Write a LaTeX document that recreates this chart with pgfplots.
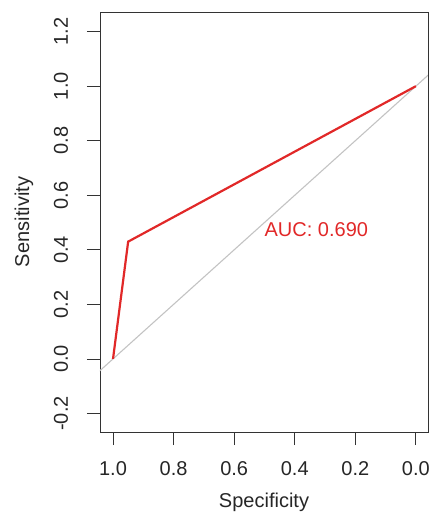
\documentclass[border=0pt]{standalone}
\usepackage{fontspec}
\setmainfont{Liberation Sans}
\usepackage{pgfplots}
\pgfplotsset{compat=1.18}
\definecolor{rocred}{RGB}{225,40,40}
\definecolor{diaggrey}{RGB}{195,195,195}
\begin{document}
\fontsize{20bp}{24bp}\selectfont
\begin{tikzpicture}
\useasboundingbox (-100bp,-82bp) rectangle (332bp,432bp);
\begin{axis}[at={(0,0)}, anchor=south west, scale only axis,
  width=328bp, height=420bp,
  x dir=reverse, xmin=-0.04, xmax=1.043, ymin=-0.268, ymax=1.272,
  xtick={0,0.2,0.4,0.6,0.8,1}, xticklabels={0.0,0.2,0.4,0.6,0.8,1.0},
  ytick={-0.2,0,0.2,0.4,0.6,0.8,1,1.2},
  yticklabels={-0.2,0.0,0.2,0.4,0.6,0.8,1.0,1.2},
  tick align=outside, major tick length=13bp, xtick pos=bottom, ytick pos=left,
  axis line style={black!80, line width=0.8bp},
  tick style={black!80, line width=0.8bp},
  every tick label/.append style={font=\fontsize{20bp}{24bp}\selectfont, text=black!85},
  xticklabel style={anchor=center, yshift=-24bp},
  yticklabel style={xshift=-26bp, rotate=90, anchor=center},
  xlabel={Specificity}, ylabel={Sensitivity},
  label style={font=\fontsize{20bp}{24bp}\selectfont, text=black!85},
  xlabel style={at={([yshift=-70bp]axis description cs:0.5,0)}, anchor=center},
  ylabel style={at={([xshift=-76bp]axis description cs:0,0.5)}, anchor=center},
]
\addplot[diaggrey, line width=1.1bp] coordinates {(1.1,-0.1) (-0.1,1.1)};
\addplot[rocred, line width=2.2bp] coordinates {(1,0) (0.95,0.43) (0,1)};
\node[anchor=north west, text=rocred, inner sep=0pt, font=\fontsize{20bp}{24bp}\selectfont] at (axis cs:0.5,0.5) {AUC: 0.690};
\end{axis}
\end{tikzpicture}
\end{document}
